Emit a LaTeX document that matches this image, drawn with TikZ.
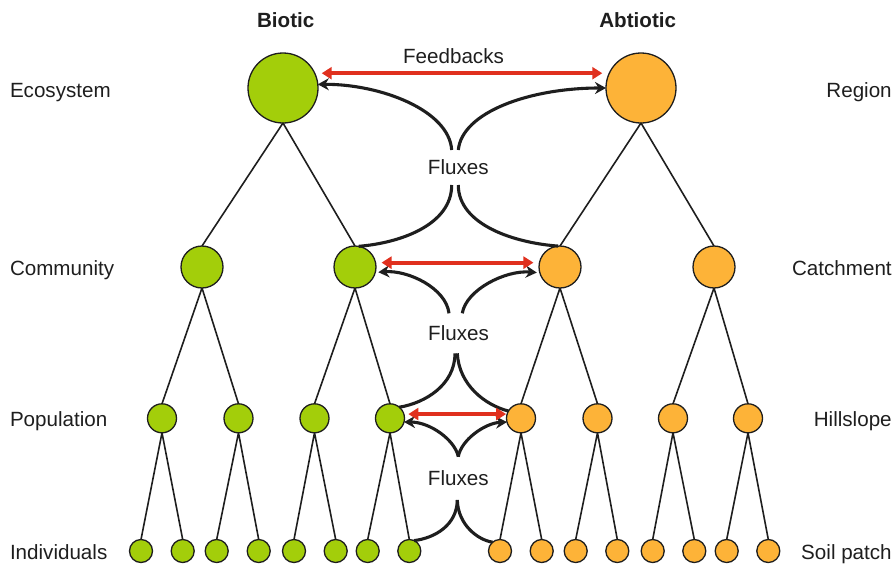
\documentclass[tikz,border=0pt]{standalone}
\usepackage{fontspec}
\setmainfont{Liberation Sans}
\usetikzlibrary{arrows.meta}
\definecolor{biogreen}{RGB}{163,206,10}
\definecolor{abiorange}{RGB}{253,179,56}
\definecolor{fbred}{RGB}{224,48,30}
\definecolor{ink}{RGB}{30,30,30}

\begin{document}
\begin{tikzpicture}[x=1pt,y=-1pt,
  every node/.style={inner sep=0pt, outer sep=0pt, text=ink,
    font=\fontsize{20.6}{24}\selectfont},
  bio/.style={circle, draw=ink, line width=1.3pt, fill=biogreen},
  abio/.style={circle, draw=ink, line width=1.3pt, fill=abiorange},
  lvlzero/.style={minimum size=70pt},
  lvlone/.style={minimum size=42pt},
  lvltwo/.style={minimum size=29pt},
  lvlthree/.style={minimum size=23pt},
  branch/.style={draw=ink, line width=1.6pt},
  flux/.style={draw=ink, line width=3.1pt},
  fluxtip/.style={flux, -{Stealth[length=11pt,width=12pt]}},
  feedback/.style={draw=fbred, line width=4pt,
    {Triangle[length=10pt,width=12pt]}-{Triangle[length=10pt,width=12pt]}},
  lefttag/.style={anchor=base west},
  righttag/.style={anchor=base east},
  title/.style={anchor=base, font=\fontsize{20.6}{24}\selectfont\bfseries},
]
\useasboundingbox (0,0) rectangle (895,563);

% ---------- titles and level names ----------
\node[title] (tbio) at (285.7,27.3) {Biotic};
\node[title] (tabio) at (637.7,27.3) {Abtiotic};

\node[lefttag] (leco) at (10,97.3) {Ecosystem};
\node[lefttag] (lcom) at (10,275.5) {Community};
\node[lefttag] (lpop) at (10,426) {Population};
\node[lefttag] (lind) at (10,559) {Individuals};

\node[righttag] (rreg) at (891.7,97.3) {Region};
\node[righttag] (rcat) at (891.7,275.5) {Catchment};
\node[righttag] (rhil) at (891.7,426) {Hillslope};
\node[righttag] (rsoi) at (891.7,559) {Soil patch};

\node[anchor=base] (fb) at (453.5,63.3) {Feedbacks};
\node[anchor=base] (fx1) at (458.3,174) {Fluxes};
\node[anchor=base] (fx2) at (458.5,340) {Fluxes};
\node[anchor=base] (fx3) at (458.3,485) {Fluxes};

% ---------- biotic tree ----------
\node[bio,lvlzero] (B) at (283,88) {};
\node[bio,lvlone] (C1) at (202,267) {};
\node[bio,lvlone] (C2) at (355,267) {};
\foreach \i/\x in {1/162,2/238.5,3/314.5,4/390}
  \node[bio,lvltwo] (P\i) at (\x,418.3) {};
\foreach \i/\x in {1/141,2/182.7,3/216.7,4/258.7,5/294,6/335.7,7/367.7,8/409.3}
  \node[bio,lvlthree] (I\i) at (\x,551) {};

% ---------- abiotic tree ----------
\node[abio,lvlzero] (A) at (641,88) {};
\node[abio,lvlone] (K1) at (560,267) {};
\node[abio,lvlone] (K2) at (714,267) {};
\foreach \i/\x in {1/521,2/597.5,3/673,4/748}
  \node[abio,lvltwo] (Q\i) at (\x,418.3) {};
\foreach \i/\x in {1/500,2/541.7,3/575.7,4/617.3,5/652.7,6/694.3,7/726.7,8/768.3}
  \node[abio,lvlthree] (S\i) at (\x,551) {};

% ---------- branches ----------
\foreach \p/\a/\b in {B/C1/C2, C1/P1/P2, C2/P3/P4, A/K1/K2, K1/Q1/Q2, K2/Q3/Q4}
  \draw[branch] (\p.south) -- (\a.north) (\p.south) -- (\b.north);
\foreach \p/\a/\b in {P1/I1/I2, P2/I3/I4, P3/I5/I6, P4/I7/I8,
                      Q1/S1/S2, Q2/S3/S4, Q3/S5/S6, Q4/S7/S8}
  \draw[branch] (\p.south) -- (\a.north) (\p.south) -- (\b.north);

% ---------- free ends of the flux curves ----------
\coordinate (u1l) at (451.7,150);
\coordinate (u1r) at (458.3,150);
\coordinate (d1l) at (451.7,185);
\coordinate (d1r) at (458.3,185);
\coordinate (u2l) at (449,313.3);
\coordinate (u2r) at (462.3,313.3);
\coordinate (d2l) at (455,353.3);
\coordinate (d2r) at (457.3,353.3);
\coordinate (u3) at (458.3,456.7);
\coordinate (d3) at (457.3,500);

% ---------- fluxes: ecosystem / region ----------
\draw[fluxtip] (u1l) .. controls (449,110) and (380,84) .. (B.6);
\draw[fluxtip] (u1r) .. controls (462,112) and (530,88) .. (A.180);
\draw[flux] (d1l) .. controls (451.7,225) and (400,243) .. (C2.80);
\draw[flux] (d1r) .. controls (458.3,225) and (515,243) .. (K1.95);

% ---------- fluxes: community / catchment ----------
\draw[fluxtip, shorten >=3pt] (u2l) .. controls (446,288) and (408,270) .. (C2.-15);
\draw[fluxtip, shorten >=3pt] (u2r) .. controls (466,290) and (505,270) .. (K1.196);
\draw[flux] (d2l) .. controls (455,385) and (425,403) .. (P4.50);
\draw[flux] (d2r) .. controls (459,385) and (485,405) .. (Q1.150);

% ---------- fluxes: population / hillslope ----------
\draw[fluxtip] (u3) .. controls (455,440) and (430,422) .. (P4.-15);
\draw[fluxtip] (u3) .. controls (461,440) and (485,423) .. (Q1.195);
\draw[flux] (d3) .. controls (457,525) and (435,538) .. (I8.65);
\draw[flux] (d3) .. controls (458,525) and (478,540) .. (S1.130);

% ---------- feedbacks ----------
\draw[feedback, shorten <=7pt, shorten >=7pt] (B.25) -- (A.155);
\draw[feedback, shorten <=6pt, shorten >=6pt] (C2.12) -- (K1.168);
\draw[feedback, shorten <=4.5pt, shorten >=1pt] (P4.17) -- (Q1.163);
\end{tikzpicture}
\end{document}
